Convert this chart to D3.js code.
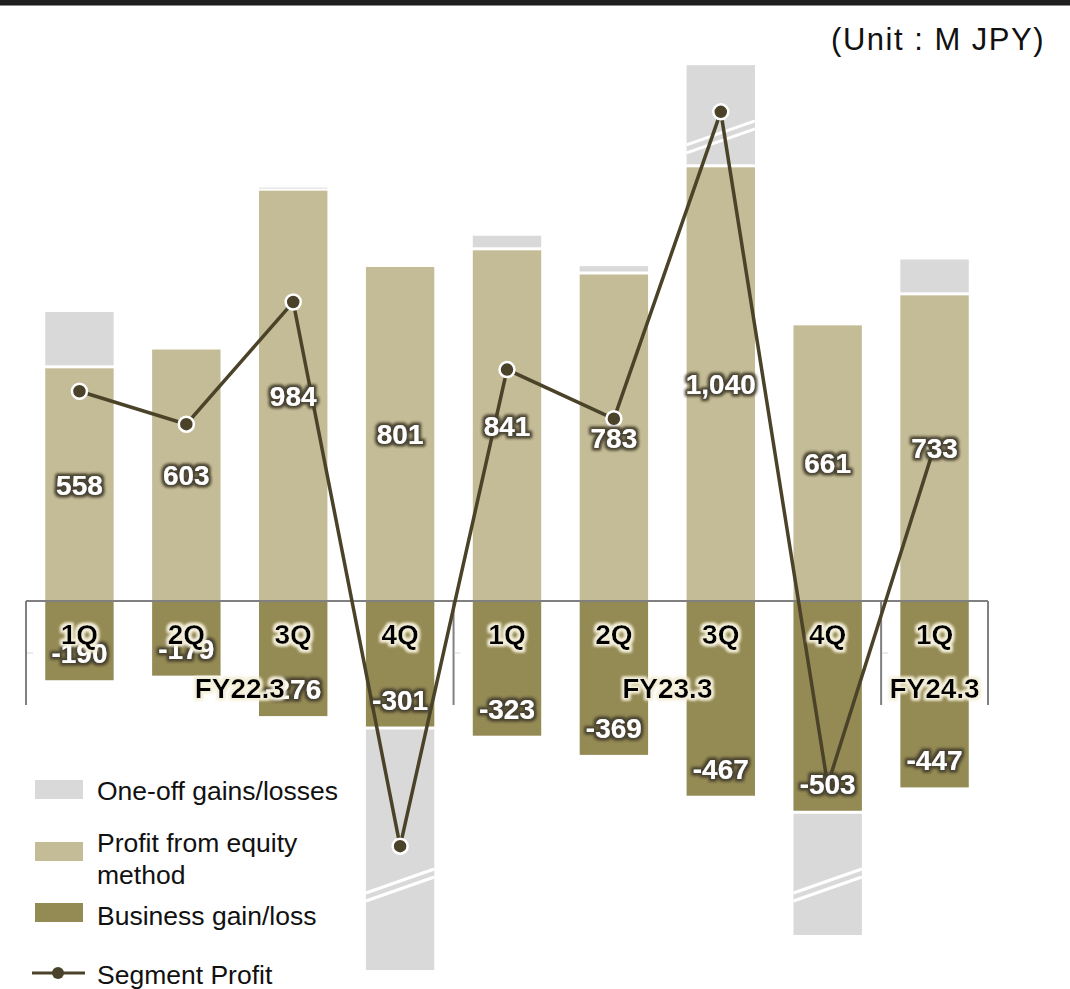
<!DOCTYPE html>
<meta charset="utf-8">
<style>
body { margin: 0; background: #fff; }
text { font-family: "Liberation Sans", Arial, "Noto Sans CJK JP", sans-serif; }
</style>
<svg width="1070" height="989"></svg>
<script src="https://cdn.jsdelivr.net/npm/d3@7"></script>
<script>

// quarters and fiscal years
var categories = ["1Q", "2Q", "3Q", "4Q", "1Q", "2Q", "3Q", "4Q", "1Q"];
var fyLabels = ["FY22.3", "FY23.3", "FY24.3"];
var fyFirst = [0, 4, 8];
var fyLast = [3, 7, 8];

// series (M JPY)
var equity = [558, 603, 984, 801, 841, 783, 1040, 661, 733];
var business = [-190, -179, -276, -301, -323, -369, -467, -503, -447];
var oneOff = [135, 0, 5, -1088, 35, 20, 600, -599, 86];
// one-off bars that run off the chart are drawn cut short with a break
var oneOffShown = [135, 0, 5, -584, 35, 20, 245, -298, 86];
var breakAt = [null, null, null, -681, null, null, 1113, -681, null];
var segment = [503, 424, 717, -588, 555, 437, 1173, -441, 372];

var oneoff_colour = "#d9d9d9";
var equity_colour = "#c4bc96";
var business_colour = "#948a54";
var line_colour = "#4b4329";
var axis_colour = "#808080";

var svg = d3.select("svg");

var defs = svg.append("defs");
function addGlow(id, colour, opacity, radius) {
  var f = defs.append("filter").attr("id", id)
      .attr("x", "-20%").attr("y", "-30%").attr("width", "140%").attr("height", "160%");
  f.append("feMorphology").attr("in", "SourceAlpha").attr("operator", "dilate").attr("radius", radius).attr("result", "d");
  f.append("feGaussianBlur").attr("in", "d").attr("stdDeviation", 1.8).attr("result", "b");
  f.append("feFlood").attr("flood-color", colour).attr("flood-opacity", opacity);
  f.append("feComposite").attr("in2", "b").attr("operator", "in").attr("result", "g");
  var m = f.append("feMerge");
  m.append("feMergeNode").attr("in", "g");
  m.append("feMergeNode").attr("in", "g");
  m.append("feMergeNode").attr("in", "SourceGraphic");
}
addGlow("glowDark", "#474130", 0.85, 1.8);
addGlow("glowLight", "#f4efd9", 0.95, 1.8);

var x = d3.scaleBand()
    .domain(d3.range(categories.length))
    .range([26, 988])
    .paddingInner(0.36)
    .paddingOuter(0.18);

var y = d3.scaleLinear().domain([0, 1000]).range([601, 184]);

var bw = x.bandwidth();
function cx(i) { return x(i) + bw / 2; }
var gap = 3;

// top rule
svg.append("rect").attr("x", 0).attr("y", 0).attr("width", 1070).attr("height", 5).style("fill", "#1e1e1e");
svg.append("rect").attr("x", 0).attr("y", 5).attr("width", 1070).attr("height", 1).style("fill", "#8a8a8a");

// unit
svg.append("text")
   .attr("x", 1045)
   .attr("y", 50)
   .attr("text-anchor", "end")
   .style("font-size", "31px")
   .style("letter-spacing", "1.5px")
   .style("fill", "#111")
   .text("(Unit : M JPY)");

// bars
var bars = svg.append("g");

bars.selectAll(".equity")
    .data(equity)
    .enter().append("rect")
    .attr("x", function(d, i) { return x(i); })
    .attr("y", function(d) { return y(d); })
    .attr("width", bw)
    .attr("height", function(d) { return y(0) - y(d); })
    .style("fill", equity_colour);

bars.selectAll(".business")
    .data(business)
    .enter().append("rect")
    .attr("x", function(d, i) { return x(i); })
    .attr("y", y(0))
    .attr("width", bw)
    .attr("height", function(d) { return y(d) - y(0); })
    .style("fill", business_colour);

oneOffShown.forEach(function(d, i) {
  if (d === 0) return;
  var base = d > 0 ? equity[i] : business[i];
  var y0 = d > 0 ? y(base) - gap : y(base) + gap;
  var y1 = y(base + d);
  bars.append("rect")
    .attr("x", x(i))
    .attr("y", Math.min(y0, y1))
    .attr("width", bw)
    .attr("height", Math.abs(y1 - y0))
    .style("fill", oneoff_colour);
});

// break marks on the cut bars
breakAt.forEach(function(b, i) {
  if (b === null) return;
  var yc = y(b);
  [-4, 4].forEach(function(off) {
    bars.append("line")
      .attr("x1", x(i)).attr("y1", yc + 12 + off)
      .attr("x2", x(i) + bw).attr("y2", yc - 12 + off)
      .style("stroke", "white")
      .style("stroke-width", 3);
  });
});

// category axis
var axis = svg.append("g").style("stroke", axis_colour).style("stroke-width", 2);
axis.append("line").attr("x1", 26).attr("x2", 988).attr("y1", y(0)).attr("y2", y(0));
var dividers = [26];
for (var k = 1; k < fyFirst.length; k++) {
  dividers.push((x(fyLast[k - 1]) + bw + x(fyFirst[k])) / 2);
}
dividers.push(988);
dividers.forEach(function(dx) {
  axis.append("line").attr("x1", dx).attr("x2", dx).attr("y1", y(0)).attr("y2", 705);
});
dividers.slice(0, -1).forEach(function(dx) {
  svg.append("line").attr("x1", dx + 1).attr("x2", dx + 7).attr("y1", 653).attr("y2", 653)
     .style("stroke", "#d8d8d8").style("stroke-width", 1);
});

// segment profit line
svg.append("path")
   .datum(segment)
   .attr("d", d3.line().x(function(d, i) { return cx(i); }).y(function(d) { return y(d); }))
   .style("fill", "none")
   .style("stroke", line_colour)
   .style("stroke-width", 3.5);

svg.selectAll(".dot")
   .data(segment)
   .enter().append("circle")
   .attr("cx", function(d, i) { return cx(i); })
   .attr("cy", function(d) { return y(d); })
   .attr("r", 7.5)
   .style("fill", line_colour)
   .style("stroke", "white")
   .style("stroke-width", 2.5);

// value labels (plain hyphen for negatives)
var fmt = d3.formatLocale({ decimal: ".", thousands: ",", grouping: [3], currency: ["", ""], minus: "-" }).format(",");
var labels = svg.append("g")
    .style("font-size", "28px")
    .style("font-weight", "bold")
    .style("fill", "white")
    .attr("text-anchor", "middle")
    .attr("filter", "url(#glowDark)");

labels.selectAll(".eq")
    .data(equity)
    .enter().append("text")
    .attr("x", function(d, i) { return cx(i); })
    .attr("y", function(d) { return (y(d) + y(0)) / 2; })
    .attr("dy", "0.36em")
    .text(function(d) { return fmt(d); });

labels.selectAll(".bu")
    .data(business)
    .enter().append("text")
    .attr("x", function(d, i) { return cx(i); })
    .attr("y", function(d) { return y(d) - 27; })
    .attr("dy", "0.36em")
    .text(function(d) { return fmt(d); });

// quarter and fiscal year labels
var catLabels = svg.append("g")
    .style("font-size", "28px")
    .style("font-weight", "bold")
    .style("fill", "#000")
    .attr("text-anchor", "middle")
    .attr("filter", "url(#glowLight)");

catLabels.selectAll(".q")
    .data(categories)
    .enter().append("text")
    .attr("x", function(d, i) { return cx(i); })
    .attr("y", 644)
    .text(function(d) { return d; });

catLabels.selectAll(".fy")
    .data(fyLabels)
    .enter().append("text")
    .attr("x", function(d, i) { return (dividers[i] + dividers[i + 1]) / 2; })
    .attr("y", 698)
    .text(function(d) { return d; });

// legend
var legend = svg.append("g").style("font-size", "26.5px").style("fill", "#111");

function addSwatch(yTop, colour) {
  legend.append("rect").attr("x", 35).attr("y", yTop).attr("width", 48).attr("height", 19).style("fill", colour);
}
addSwatch(780, oneoff_colour);
legend.append("text").attr("x", 97).attr("y", 800).text("One-off gains/losses");

addSwatch(842, equity_colour);
legend.append("text").attr("x", 97).attr("y", 852).text("Profit from equity");
legend.append("text").attr("x", 97).attr("y", 884).text("method");

addSwatch(903, business_colour);
legend.append("text").attr("x", 97).attr("y", 925).text("Business gain/loss");

legend.append("line").attr("x1", 32).attr("x2", 85).attr("y1", 973).attr("y2", 973)
      .style("stroke", line_colour).style("stroke-width", 3);
legend.append("circle").attr("cx", 58).attr("cy", 973).attr("r", 6).style("fill", line_colour);
legend.append("text").attr("x", 97).attr("y", 984).text("Segment Profit");

</script>
